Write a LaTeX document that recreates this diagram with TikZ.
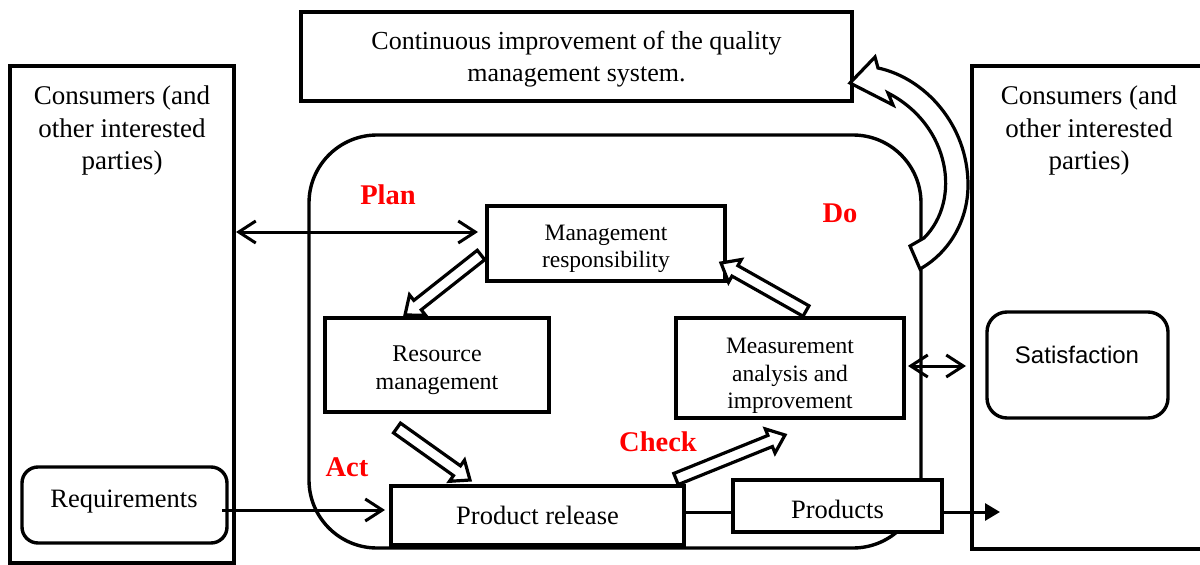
\documentclass[tikz,border=0pt]{standalone}
\usepackage{fontspec}
\setmainfont{Liberation Serif}
\newfontfamily\arialfont{Liberation Sans}
\usetikzlibrary{calc,arrows.meta}

\newcommand\hollowarrow[2]{%
  \path (#1) coordinate (ha-t) (#2) coordinate (ha-h);
  \path ($(ha-h)!16pt!(ha-t)$) coordinate (ha-c);
  \draw[hollow] ($(ha-t)!6pt!90:(ha-h)$) -- ($(ha-c)!6pt!-90:(ha-t)$)
    -- ($(ha-c)!13pt!-90:(ha-t)$) -- (ha-h) -- ($(ha-c)!13pt!90:(ha-t)$)
    -- ($(ha-c)!6pt!90:(ha-t)$) -- ($(ha-t)!6pt!-90:(ha-h)$) -- cycle;}

\begin{document}
\begin{tikzpicture}[x=1pt,y=-1pt,
  box/.style={draw, line width=3.4pt, fill=white, inner sep=0pt, outer sep=0pt, align=center},
  txt/.style={inner sep=0pt, align=center},
  pdca/.style={text=red, font=\fontsize{28.5}{34}\selectfont\bfseries, inner sep=0pt},
  conn/.style={line width=3pt},
  barbs/.style={arrows={Straight Barb[length=17pt,width=22pt]-Straight Barb[length=17pt,width=22pt]}},
  barb/.style={arrows={-Straight Barb[length=17pt,width=22pt]}},
  tri/.style={arrows={-Triangle[length=15pt,width=17pt]}},
  hollow/.style={draw, line width=3.2pt, fill=white, line join=miter}
]
\useasboundingbox (0,0) rectangle (1200,565);

% outer boxes
\node[box, minimum width=224pt, minimum height=497pt] (lc) at (122,314.5) {};
\node[box, minimum width=243pt, minimum height=483pt] (rc) at (1093.5,307.5) {};
\node[txt, font=\fontsize{27}{32.5}\selectfont] (lct) at (122,131) {Consumers (and\\other interested\\parties)};
\node[txt, font=\fontsize{27}{32.5}\selectfont] (rct) at (1089,131) {Consumers (and\\other interested\\parties)};

% top box
\node[box, minimum width=551pt, minimum height=89pt] (top) at (576.5,56.5) {};
\node[txt, font=\fontsize{26}{32}\selectfont] (topt) at (576.5,59.5) {Continuous improvement of the quality\\management system.};

% big rounded process frame
\node[draw, line width=3.4pt, rounded corners=68pt, minimum width=612pt, minimum height=413pt, inner sep=0pt] (frame) at (615,341.5) {};

% inner boxes
\node[box, minimum width=238pt, minimum height=75pt] (mg) at (606,243.5) {};
\node[txt, font=\fontsize{23.5}{27}\selectfont] (mgt) at (606,248.5) {Management\\responsibility};
\node[box, minimum width=224pt, minimum height=94pt] (rs) at (437,365) {};
\node[txt, font=\fontsize{24}{28}\selectfont] (rst) at (437,370) {Resource\\management};
\node[box, minimum width=228pt, minimum height=100pt] (ms) at (790,368) {};
\node[txt, font=\fontsize{23.5}{27.5}\selectfont] (mst) at (790,376) {Measurement\\analysis and\\improvement};
\node[box, line width=4pt, minimum width=293pt, minimum height=59pt, font=\fontsize{26.5}{30}\selectfont] (pr) at (537.5,515.5) {Product release};

% requirements / satisfaction
\node[box, rounded corners=16pt, minimum width=205pt, minimum height=76pt] (rq) at (124.5,505) {};
\node[txt, font=\fontsize{26.5}{30}\selectfont] (rqt) at (124,502) {Requirements};
\node[box, rounded corners=20pt, minimum width=181pt, minimum height=106pt] (st) at (1077.5,365) {};
\node[txt, font=\arialfont\fontsize{24}{28}\selectfont] (stt) at (1077,355) {Satisfaction};

% PDCA labels
\node[pdca] (plan) at (388,195) {Plan};
\node[pdca] (do) at (840,213) {Do};
\node[pdca] (act) at (347,467) {Act};
\node[pdca] (check) at (658,442) {Check};

% connectors
\draw[conn, barbs] ($(lc.east |- mg.west)+(2,-11.5)$) -- ($(mg.west)+(-9,-11.5)$);
\draw[conn, barbs] ($(ms.east)+(4,-2)$) -- ($(st.west)+(-21,1)$);
\draw[conn, barb] ($(rq.east)+(-5,5)$) -- ($(pr.west)+(-6,-5.5)$);

% hollow block arrows
\coordinate (a1t) at (481,255); \coordinate (a1h) at (405,315);
\coordinate (a2t) at (806,311); \coordinate (a2h) at (721,263);
\coordinate (a3t) at (397,428); \coordinate (a3h) at (470,480);
\coordinate (a4t) at (676,479); \coordinate (a4h) at (785,435);
\hollowarrow{a1t}{a1h}
\hollowarrow{a2t}{a2h}
\hollowarrow{a3t}{a3h}
\hollowarrow{a4t}{a4h}

% curved hollow arrow
\draw[hollow] (850,83) -- (875,57) -- (878,68)
  .. controls (925,78) and (968,125) .. (968,185)
  .. controls (968,220) and (950,252) .. (920,269)
  -- (910,246) -- (924,238)
  .. controls (962,200) and (950,125) .. (888,93)
  -- (893,105) -- cycle;

% products
\node[box, minimum width=209pt, minimum height=52pt] (pd) at (837.5,506) {};
\node[txt, font=\fontsize{26.5}{30}\selectfont] (pdt) at (837.5,509) {Products};
\draw[conn] ($(pr.east)+(0,-3.5)$) -- ($(pd.west)+(0,6)$);
\draw[conn, tri] ($(pd.east)+(0,6)$) -- ($(pd.east)+(58,6)$);
\end{tikzpicture}
\end{document}
